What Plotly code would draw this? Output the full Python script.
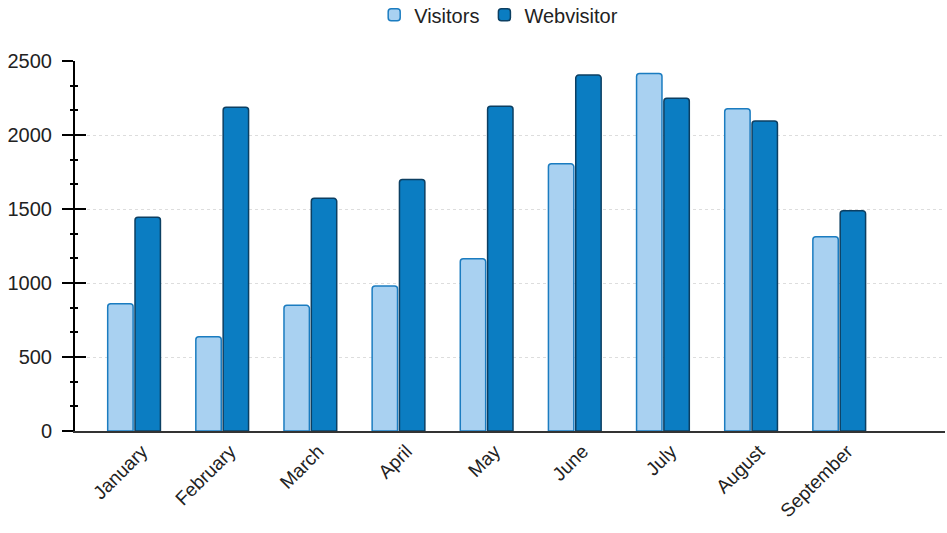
import plotly.graph_objects as go

months = ["January", "February", "March", "April", "May", "June", "July", "August", "September"]
visitors = [860, 637, 849, 980, 1164, 1805, 2415, 2178, 1313]
webvisitor = [1445, 2187, 1572, 1700, 2194, 2405, 2248, 2095, 1489]
y_ticks = [0, 500, 1000, 1500, 2000, 2500]

FONT = "Liberation Sans, Arial, sans-serif"

fig = go.Figure()
fig.add_trace(go.Bar(
    name="Visitors", x=months, y=visitors,
    marker=dict(color="#a9d1f1", line=dict(color="#1b7cc0", width=1.5), cornerradius=3),
))
fig.add_trace(go.Bar(
    name="Webvisitor", x=months, y=webvisitor,
    marker=dict(color="#0b7dc2", line=dict(color="#0c3f62", width=1.5), cornerradius=3),
))
# invisible helper so the overlaying axis (inner half of the crossing ticks) is drawn
fig.add_trace(go.Scatter(
    x=months, y=visitors, yaxis="y2", mode="markers",
    marker=dict(opacity=0), showlegend=False, hoverinfo="skip",
))

fig.update_layout(
    width=947, height=533,
    margin=dict(l=75, r=2, t=61, b=102, autoexpand=False),
    paper_bgcolor="white", plot_bgcolor="white",
    font=dict(family=FONT, size=20, color="#222222"),
    barmode="group", bargap=0.38, bargroupgap=0.07,
    showlegend=True,
    legend=dict(orientation="h", x=0.487, xanchor="center", y=1.125, yanchor="middle",
                font=dict(size=20, color="#222222"), itemwidth=30, traceorder="normal"),
    xaxis=dict(
        range=[-0.67, 9.2], showgrid=False, showline=True, linecolor="#333333", linewidth=1.5,
        ticks="", tickangle=-45, tickfont=dict(size=19, color="#222222"), zeroline=False,
        ticklabelshift=8,
    ),
    yaxis=dict(
        range=[0, 2500], tickvals=y_ticks, showline=True, linecolor="black", linewidth=2,
        ticks="outside", ticklen=11, tickwidth=2, tickcolor="black",
        minor=dict(dtick=500 / 3, tick0=0, ticks="outside", ticklen=3, tickwidth=2, tickcolor="black", showgrid=False),
        showgrid=True, gridcolor="#dddddd", griddash="dot", gridwidth=1,
        zeroline=False, tickfont=dict(size=20, color="#222222"), ticklabelstandoff=6,
    ),
    yaxis2=dict(
        overlaying="y", side="left", anchor="x", range=[0, 2500], tickvals=y_ticks,
        ticks="inside", ticklen=11, tickwidth=2, tickcolor="black",
        minor=dict(dtick=500 / 3, tick0=0, ticks="inside", ticklen=3, tickwidth=2, tickcolor="black", showgrid=False),
        showticklabels=False, showgrid=False, showline=False, zeroline=False,
    ),
)

fig.write_html("out.html")
